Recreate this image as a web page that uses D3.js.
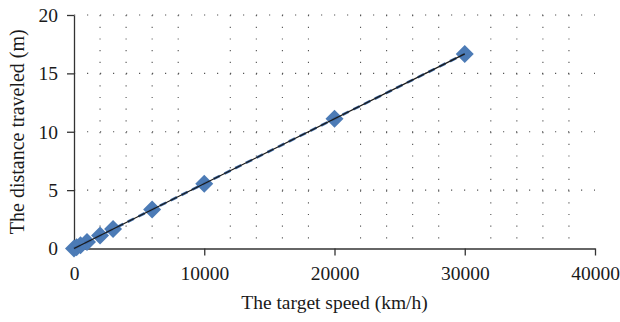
<!DOCTYPE html>
<html><head><meta charset="utf-8">
<script src="https://cdn.jsdelivr.net/npm/d3@7"></script>
<style>body{margin:0;background:#fff}svg{display:block}</style>
</head><body>
<svg id="c" width="620" height="322"></svg>
<script>
const speeds = [0, 200, 500, 1000, 2000, 3000, 6000, 10000, 20000, 30000];
const distances = [0, 0.111, 0.278, 0.556, 1.111, 1.667, 3.333, 5.556, 11.111, 16.667];
const xTicks = [0, 10000, 20000, 30000, 40000];
const yTicks = [0, 5, 10, 15, 20];
const xMinor = d3.range(2000, 40000, 2000).filter(v => v % 10000 !== 0);
const xTitle = "The target speed (km/h)";
const yTitle = "The distance traveled (m)";

const svg = d3.select("#c");
const x = d3.scaleLinear().domain([0, 40000]).range([74, 595]);
const y = d3.scaleLinear().domain([0, 20]).range([248.5, 15]);
const font = "'Liberation Serif', 'Times New Roman', serif";

// grid
svg.append("g").selectAll("line").data(xMinor).join("line")
  .attr("x1", d => x(d)).attr("x2", d => x(d)).attr("y1", y(20)).attr("y2", y(0))
  .attr("stroke", "#555").attr("stroke-width", 1.1).attr("stroke-dasharray", "1.2,10.5");
svg.append("g").selectAll("line").data(yTicks.filter(d => d > 0)).join("line")
  .attr("x1", x(0)).attr("x2", x(40000)).attr("y1", d => y(d)).attr("y2", d => y(d))
  .attr("stroke", "#555").attr("stroke-width", 1.1).attr("stroke-dasharray", "1.2,11.8");

// axes
const xAxis = svg.append("g").attr("transform", `translate(0,${y(0)})`)
  .call(d3.axisBottom(x).tickValues(xTicks).tickFormat(d3.format("d")).tickSize(7).tickPadding(6).tickSizeOuter(0));
const yAxis = svg.append("g").attr("transform", `translate(${x(0)},0)`)
  .call(d3.axisLeft(y).tickValues(yTicks).tickSize(7).tickPadding(9).tickSizeOuter(0));
[xAxis, yAxis].forEach(a => {
  a.select(".domain").attr("stroke", "#333").attr("stroke-width", 1.3);
  a.selectAll(".tick line").attr("stroke", "#333").attr("stroke-width", 1.3);
  a.selectAll("text").attr("font-family", font).attr("font-size", 19.5).attr("fill", "#1a1a1a");
});
xAxis.selectAll("text").attr("dy", "0.95em");
yAxis.selectAll("text").attr("dy", "0.33em");

// markers
const pts = speeds.map((s, i) => [s, distances[i]]);
const r = 9;
svg.append("g").selectAll("path").data(pts).join("path")
  .attr("d", d => { const cx = x(d[0]), cy = y(d[1]); return `M${cx},${cy-r}L${cx+r},${cy}L${cx},${cy+r}L${cx-r},${cy}Z`; })
  .attr("fill", "#4c7bb6");

// series line (blue dashed) and trend line (black)
const line = d3.line().x(d => x(d[0])).y(d => y(d[1]));
svg.append("path").datum(pts).attr("d", line).attr("fill", "none")
  .attr("stroke", "#3d6aa6").attr("stroke-width", 2.6).attr("stroke-dasharray", "7,5");
const slope = distances[distances.length-1] / speeds[speeds.length-1];
const trend = [[0, 0], [speeds[speeds.length-1], slope * speeds[speeds.length-1]]];
svg.append("path").datum(trend).attr("d", line).attr("fill", "none")
  .attr("stroke", "#1a1a1a").attr("stroke-width", 1.3);

// titles
svg.append("text").attr("x", (x(0)+x(40000))/2).attr("y", 309).attr("text-anchor", "middle")
  .attr("font-family", font).attr("font-size", 19.5).attr("fill", "#1a1a1a").text(xTitle);
svg.append("text").attr("transform", `translate(24,${(y(0)+y(20))/2}) rotate(-90)`)
  .attr("text-anchor", "middle").attr("font-family", font).attr("font-size", 20).attr("fill", "#1a1a1a").text(yTitle);
</script>
</body></html>
